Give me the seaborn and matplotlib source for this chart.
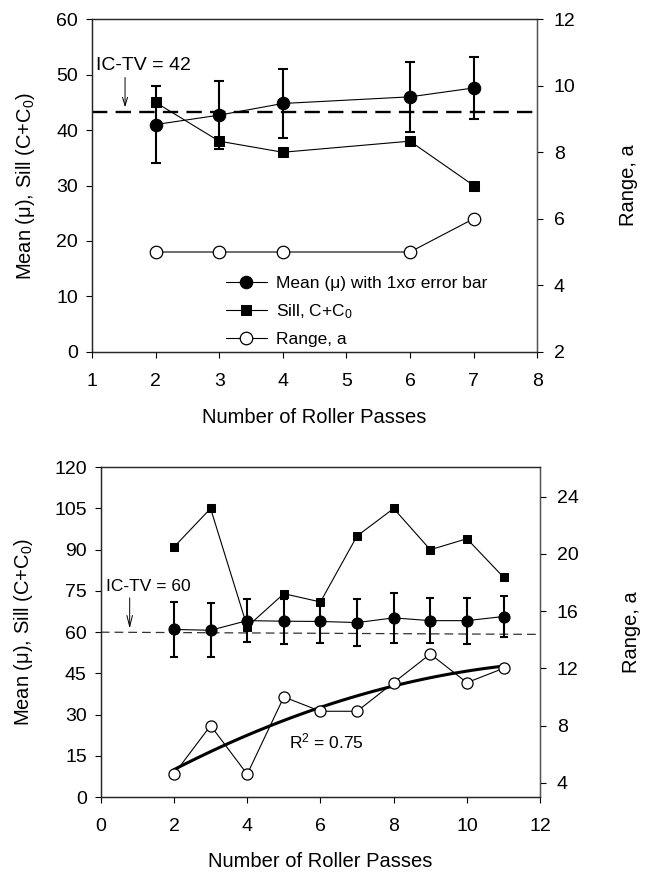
import matplotlib
matplotlib.use("Agg")
import matplotlib.pyplot as plt
import numpy as np
import seaborn as sns

# ---- top panel data ----
top_passes = [2, 3, 4, 6, 7]
top_mean = [41.0, 42.7, 44.8, 46.0, 47.6]
top_sd = [7.0, 6.2, 6.3, 6.3, 5.6]
top_sill = [45, 38, 36, 38, 30]
top_range = [5, 5, 5, 5, 6]
top_ictv_x = [1, 8]
top_ictv_y = [43.2, 43.2]

# ---- bottom panel data ----
bot_passes = [2, 3, 4, 5, 6, 7, 8, 9, 10, 11]
bot_mean = [61.0, 60.7, 64.2, 64.0, 63.9, 63.5, 65.2, 64.2, 64.2, 65.7]
bot_sd = [9.9, 9.8, 7.8, 8.2, 7.8, 8.6, 9.1, 8.2, 8.4, 7.3]
bot_sill = [91, 105, 62, 74, 71, 95, 105, 90, 94, 80]
bot_range = [4.6, 8, 4.6, 10, 9, 9, 11, 13, 11, 12]
bot_ictv_x = [0, 12]
bot_ictv_y = [60.0, 59.2]

sns.set_style("ticks")
plt.rcParams["font.family"] = ["Liberation Sans", "DejaVu Sans"]
plt.rcParams["mathtext.fontset"] = "custom"
plt.rcParams["mathtext.rm"] = "Liberation Sans"
plt.rcParams["mathtext.it"] = "Liberation Sans:italic"
for key in ("text.color", "axes.labelcolor", "xtick.color", "ytick.color"):
    plt.rcParams[key] = "black"

TICK_FS = 14
LABEL_FS = 14.5


def style_axes(ax, ax2):
    ax.tick_params(axis="x", labelsize=TICK_FS, length=4, width=0.8, pad=11)
    ax.tick_params(axis="y", labelsize=TICK_FS, length=4, width=0.8, pad=6)
    ax2.tick_params(axis="y", labelsize=TICK_FS, length=4, width=0.8, pad=8)
    for a in (ax, ax2):
        for side in ("left", "right", "top", "bottom"):
            a.spines[side].set_visible(True)
            a.spines[side].set_linewidth(0.9)
    ax.spines["top"].set_color("#555555")
    ax2.spines["right"].set_color("#555555")


def draw_panel(ax, passes, mean, sd, sill, rng, ms_circle, ms_square, cap):
    ax2 = ax.twinx()
    sns.lineplot(x=passes, y=sill, ax=ax, color="black", marker="s", markersize=ms_square,
                 markeredgecolor="black", linewidth=0.8, legend=False)
    sill_line = ax.lines[-1]
    ax.errorbar(passes, mean, yerr=sd, fmt="none", ecolor="black", elinewidth=1.5,
                capsize=cap, capthick=1.5, zorder=3)
    sns.lineplot(x=passes, y=mean, ax=ax, color="black", marker="o", markersize=ms_circle,
                 markeredgecolor="black", linewidth=0.8, legend=False, zorder=4)
    mean_line = ax.lines[-1]
    sns.lineplot(x=passes, y=rng, ax=ax2, color="black", marker="o", markersize=ms_circle,
                 markerfacecolor="white", markeredgecolor="black", markeredgewidth=0.9,
                 linewidth=0.8, legend=False, zorder=4)
    range_line = ax2.lines[-1]
    return ax2, [mean_line, sill_line, range_line]


fig = plt.figure(figsize=(6.5, 8.75), dpi=100)

# ================= top panel =================
ax = fig.add_axes([0.1415, 0.598, 0.685, 0.380])
ax2, handles = draw_panel(ax, top_passes, top_mean, top_sd, top_sill, top_range, 9, 7, 3.5)
ax.plot(top_ictv_x, top_ictv_y, color="black", lw=1.7, ls=(0, (6.5, 3.5)), zorder=2)
ax.annotate("", xy=(1.52, 43.6), xytext=(1.52, 50.0),
            arrowprops=dict(arrowstyle="->,head_length=0.6,head_width=0.18", lw=0.7, color="black"))
ax.text(1.06, 51.7, "IC-TV = 42", fontsize=14, ha="left", va="center")

ax.set_xlim(1, 8)
ax.set_ylim(0, 60)
ax.set_xticks(range(1, 9))
ax.set_yticks(range(0, 61, 10))
ax2.set_ylim(2, 12)
ax2.set_yticks(range(2, 13, 2))
ax.set_xlabel("Number of Roller Passes", fontsize=LABEL_FS, labelpad=13)
ax.set_ylabel("Mean (\u03bc), Sill (C+C$_0$)", fontsize=LABEL_FS, labelpad=14)
ax2.set_ylabel("Range, a", fontsize=LABEL_FS, labelpad=31)
style_axes(ax, ax2)

labels = ["Mean (\u03bc) with 1x\u03c3 error bar", "Sill, C+C$_0$", "Range, a"]
ax2.legend(handles, labels, loc="lower left", bbox_to_anchor=(0.265, -0.032), frameon=False,
           fontsize=12.5, handlelength=2.4, labelspacing=0.62, handletextpad=0.5)

# ================= bottom panel =================
bx = fig.add_axes([0.155, 0.089, 0.676, 0.377])
bx2, _ = draw_panel(bx, bot_passes, bot_mean, bot_sd, bot_sill, bot_range, 8, 5.5, 3)
bx.plot(bot_ictv_x, bot_ictv_y, color="#333333", lw=0.9, ls=(0, (7, 4)), zorder=2)
sns.regplot(x=np.array(bot_passes, dtype=float), y=np.array(bot_range, dtype=float), ax=bx2,
            order=2, ci=None, scatter=False, truncate=True,
            line_kws=dict(color="black", lw=2.2, zorder=3))
bx.annotate("", xy=(0.79, 60.3), xytext=(0.79, 73.5),
            arrowprops=dict(arrowstyle="->,head_length=0.8,head_width=0.2", lw=0.7, color="black"))
bx.text(0.14, 76.8, "IC-TV = 60", fontsize=12.5, ha="left", va="center")
bx2.text(5.15, 6.9, "R$^2$ = 0.75", fontsize=12.5, ha="left", va="center")

bx.set_xlim(0, 12)
bx.set_ylim(0, 120)
bx.set_xticks(range(0, 13, 2))
bx.set_yticks(range(0, 121, 15))
bx2.set_ylim(3.0, 26.05)
bx2.set_yticks(range(4, 25, 4))
bx2.set_xlabel("")
bx.set_xlabel("Number of Roller Passes", fontsize=LABEL_FS, labelpad=12)
bx.set_ylabel("Mean (\u03bc), Sill (C+C$_0$)", fontsize=LABEL_FS, labelpad=14)
bx2.set_ylabel("Range, a", fontsize=LABEL_FS, labelpad=31)
style_axes(bx, bx2)

fig.savefig("out.png", dpi=100)
